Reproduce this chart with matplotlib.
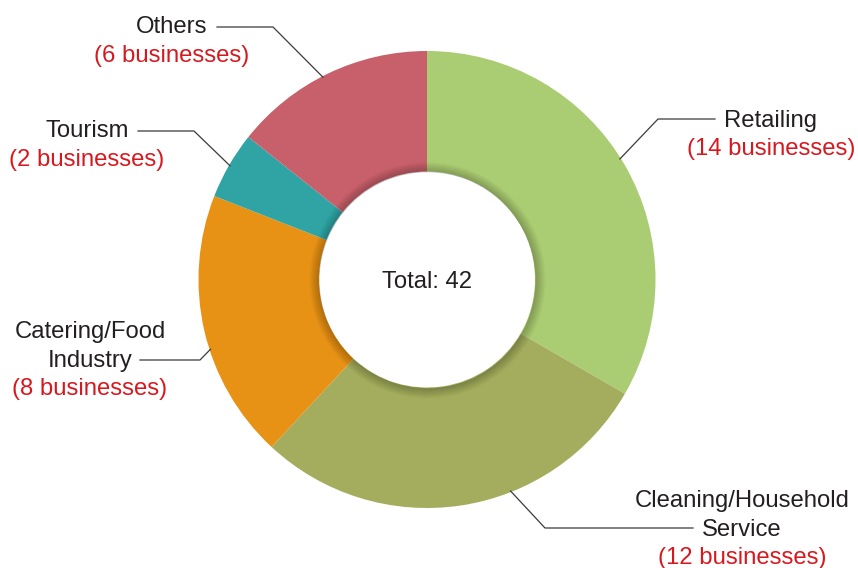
import numpy as np
import matplotlib.pyplot as plt
from matplotlib.patches import Wedge

# data
categories = ['Retailing', 'Cleaning/Household\nService', 'Catering/Food\nIndustry', 'Tourism', 'Others']
counts = [14, 12, 8, 2, 6]
colors = ['#AACC72', '#A4AD5D', '#E79215', '#30A4A4', '#C7606A']

W, H = 858, 568
plt.rcParams['font.family'] = ['Liberation Sans', 'DejaVu Sans']

fig = plt.figure(figsize=(W / 100, H / 100), dpi=100)
ax = fig.add_axes([0, 0, 1, 1])
ax.set_xlim(0, W)
ax.set_ylim(0, H)
ax.set_aspect('equal')
ax.axis('off')


def py(y):
    # pixel row (from top) -> data y
    return H - y


cx, cy = 427, py(279.5)
R, r_in = 228.5, 108

wedges, _ = ax.pie(counts, colors=colors, startangle=90, counterclock=False,
                   radius=R, center=(cx, cy),
                   wedgeprops=dict(width=R - r_in, linewidth=0))
ax.set_xlim(0, W)
ax.set_ylim(0, H)

# soft shadow around the hole
for k in range(1, 11):
    ax.add_patch(Wedge((cx + 0.5, cy - 0.8), r_in + k, 0, 360, width=k,
                       facecolor='black', alpha=0.022, linewidth=0, zorder=3))

ax.text(cx, py(288), 'Total: 42', ha='center', va='baseline',
        fontsize=17.2, color='#231F20', zorder=5)

# label layout: (text centre x, baselines, line start, elbow, angle offset)
layout = [
    (771, [126.5, 155], (715, 119), (658, 119), 2),
    (742, [507, 536, 564], (693, 528), (545, 528), 13),
    (90, [338, 367, 395], (140, 360), (200, 360), 5),
    (87, [137, 166], (138, 131), (194, 131), 0),
    (172, [33, 62], (217, 27), (273, 27), 1.5),
]

for w, cat, n, (tx, bases, p0, p1, off) in zip(wedges, categories, counts, layout):
    lines = cat.split('\n') + ['(%d businesses)' % n]
    for i, (s, b) in enumerate(zip(lines, bases)):
        col = '#D7191F' if i == len(lines) - 1 else '#231F20'
        ax.text(tx, py(b), s, ha='center', va='baseline', fontsize=17.2, color=col)
    mid = np.deg2rad((w.theta1 + w.theta2) / 2 + off)
    ax_x = cx + (R - 1) * np.cos(mid)
    ax_y = cy + (R - 1) * np.sin(mid)
    ax.plot([p0[0], p1[0], ax_x], [py(p0[1]), py(p1[1]), ax_y],
            color='#3A3A3A', linewidth=0.9, zorder=4)

fig.savefig('out.png', dpi=100, facecolor='white')
